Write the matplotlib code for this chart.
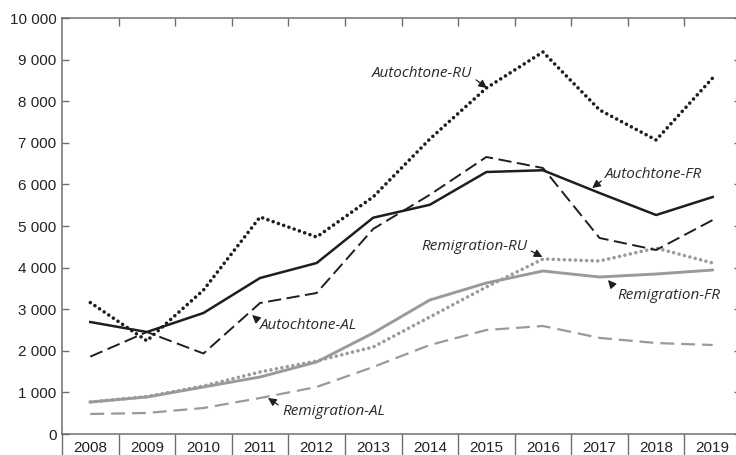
import matplotlib
matplotlib.use("Agg")
import matplotlib.pyplot as plt
import matplotlib.transforms as mtransforms
import numpy as np

plt.rcParams['lines.scale_dashes'] = False

years = [2008, 2009, 2010, 2011, 2012, 2013, 2014, 2015, 2016, 2017, 2018, 2019]
auto_ru = [3160, 2240, 3460, 5216, 4735, 5700, 7090, 8317, 9183, 7790, 7067, 8560]
auto_fr = [2692, 2452, 2909, 3750, 4110, 5200, 5510, 6298, 6340, 5793, 5264, 5697]
auto_al = [1860, 2452, 1935, 3149, 3389, 4930, 5750, 6659, 6394, 4712, 4423, 5144]
remi_ru = [769, 900, 1154, 1490, 1755, 2091, 2812, 3534, 4207, 4159, 4470, 4110]
remi_fr = [769, 889, 1130, 1370, 1731, 2428, 3221, 3630, 3918, 3774, 3846, 3942]
remi_al = [481, 505, 625, 865, 1130, 1611, 2139, 2500, 2596, 2310, 2187, 2139]
y_ticks = [0, 1000, 2000, 3000, 4000, 5000, 6000, 7000, 8000, 9000, 10000]

BLACK = '#1e1e1e'
GREY = '#9a9a9a'
AXC = '#6e6e6e'

W, H = 736, 455
fig = plt.figure(figsize=(W / 100, H / 100), dpi=100)
ax = fig.add_axes([62 / W, (H - 434) / H, (741 - 62) / W, (434 - 18) / H])

x = np.arange(len(years))
dot = (0, (0.01, 4.0))
ax.plot(x, remi_al, color=GREY, lw=1.6, linestyle=(0, (10, 5)))
ax.plot(x, remi_fr, color=GREY, lw=2.1, solid_capstyle='round')
ax.plot(x, remi_ru, color=GREY, lw=2.6, linestyle=dot, dash_capstyle='round')
ax.plot(x, auto_al, color=BLACK, lw=1.4, linestyle=(0, (9.5, 4)))
ax.plot(x, auto_fr, color=BLACK, lw=1.8)
ax.plot(x, auto_ru, color=BLACK, lw=2.6, linestyle=dot, dash_capstyle='round')

ax.set_xlim(-0.5, len(years) - 0.5)
ax.set_ylim(0, 10000)

for s in ax.spines.values():
    s.set_color(AXC)
    s.set_linewidth(1.1)

# y axis
ax.set_yticks(y_ticks)
ax.set_yticklabels([f"{v:,}".replace(",", " ") for v in y_ticks])
ax.tick_params(axis='y', which='major', direction='in', length=5, width=1.0,
               color=AXC, left=True, right=True, pad=4, labelsize=11,
               labelcolor='#222222')

# x axis: boundaries as major ticks, labels on minor ticks
ax.set_xticks(np.arange(-0.5, len(years), 1.0))
ax.set_xticklabels([])
ax.set_xticks(x, minor=True)
ax.set_xticklabels([str(y) for y in years], minor=True)
ax.tick_params(axis='x', which='major', direction='out', length=22, width=1.0,
               color=AXC, top=False)
ax.tick_params(axis='x', which='minor', length=0, pad=5, labelsize=11,
               labelcolor='#222222')

for lab in ax.get_xticklabels(minor=True) + ax.get_yticklabels():
    lab.set_fontfamily('Liberation Sans')

# top inward ticks at boundaries
trans = mtransforms.blended_transform_factory(ax.transData, ax.transAxes)
ax.vlines(np.arange(0.5, len(years) - 1, 1.0), 1 - 8 / 416, 1, transform=trans,
          color=AXC, lw=1.0, clip_on=False)

afont = dict(fontfamily='Open Sans', fontstyle='italic', fontsize=11, color='#2a2a2a')
aprops = dict(arrowstyle='-|>', color=BLACK, lw=0.9, mutation_scale=12,
              shrinkA=1, shrinkB=0)

ann = [
    ("Autochtone-RU", (7.01, 8317), (6.75, 8654), 'right', (1, 0.3)),
    ("Autochtone-FR", (8.87, 5913), (9.10, 6226), 'left', (0, 0.3)),
    ("Autochtone-AL", (2.86, 2861), (3.00, 2620), 'left', (0, 0.7)),
    ("Remigration-AL", (3.14, 865), (3.39, 529), 'left', (0, 0.8)),
    ("Remigration-RU", (7.99, 4255), (7.72, 4519), 'right', (1, 0.3)),
    ("Remigration-FR", (9.15, 3702), (9.31, 3341), 'left', (0, 0.8)),
]
for txt, xy, xyt, ha, rp in ann:
    p = dict(aprops)
    p['relpos'] = rp
    ax.annotate(txt, xy=xy, xytext=xyt, textcoords='data', ha=ha, va='center',
                arrowprops=p, **afont)

fig.savefig('out.png', dpi=100)
